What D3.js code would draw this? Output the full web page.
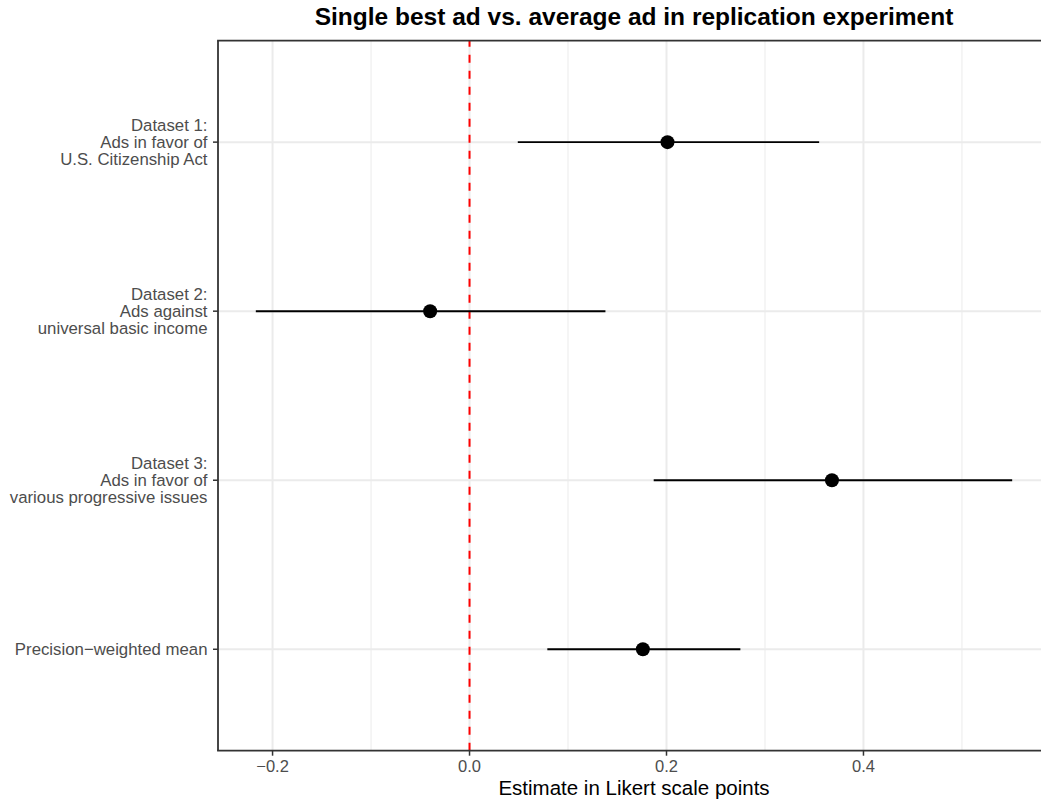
<!DOCTYPE html>
<html>
<head>
<meta charset="utf-8">
<script src="https://cdn.jsdelivr.net/npm/d3@7"></script>
<style>
  html, body { margin: 0; padding: 0; background: #fff; overflow: hidden; }
  svg { display: block; overflow: hidden; font-family: "Liberation Sans", Arial, Helvetica, sans-serif; }
</style>
</head>
<body>
<svg id="chart" width="1041" height="804"></svg>
<script>
// Estimates with 95% intervals, one row per dataset plus the pooled mean
const categories = [
  "Dataset 1:\nAds in favor of\nU.S. Citizenship Act",
  "Dataset 2:\nAds against\nuniversal basic income",
  "Dataset 3:\nAds in favor of\nvarious progressive issues",
  "Precision\u2212weighted mean"
];
const estimates = [0.201, -0.040, 0.368, 0.176];
const lowerCI   = [0.049, -0.217, 0.187, 0.079];
const upperCI   = [0.355, 0.138, 0.551, 0.275];
const xMajorTicks = [-0.2, 0.0, 0.2, 0.4];
const xMinorTicks = [-0.1, 0.1, 0.3, 0.5];
const titleText = "Single best ad vs. average ad in replication experiment";
const xTitleText = "Estimate in Likert scale points";

const rows = categories.map((c, i) => ({ cat: c, est: estimates[i], lo: lowerCI[i], hi: upperCI[i] }));

const W = 1041;
const svg = d3.select("#chart");
const panel = { left: 218, top: 40.7, right: 1050, bottom: 750.7 };

// x domain: data range padded by 5% on each side
const lo = d3.min(lowerCI), hi = d3.max(upperCI);
const pad = (hi - lo) * 0.05;
const x = d3.scaleLinear().domain([lo - pad, hi + pad]).range([panel.left, panel.right]);
const y = d3.scalePoint().domain(categories).range([panel.top, panel.bottom]).padding(0.6);

svg.append("defs").append("clipPath").attr("id", "panelClip")
  .append("rect")
  .attr("x", panel.left).attr("y", panel.top)
  .attr("width", W - panel.left).attr("height", panel.bottom - panel.top);

const g = svg.append("g").attr("clip-path", "url(#panelClip)");

// grid
g.selectAll("line.minor").data(xMinorTicks).join("line")
  .attr("x1", d => x(d)).attr("x2", d => x(d))
  .attr("y1", panel.top).attr("y2", panel.bottom)
  .attr("stroke", "#EBEBEB").attr("stroke-width", 1);
g.selectAll("line.majorx").data(xMajorTicks).join("line")
  .attr("x1", d => x(d)).attr("x2", d => x(d))
  .attr("y1", panel.top).attr("y2", panel.bottom)
  .attr("stroke", "#EBEBEB").attr("stroke-width", 2);
g.selectAll("line.majory").data(categories).join("line")
  .attr("x1", panel.left).attr("x2", W)
  .attr("y1", d => y(d)).attr("y2", d => y(d))
  .attr("stroke", "#EBEBEB").attr("stroke-width", 2);

// reference line at zero
g.append("line")
  .attr("x1", x(0)).attr("x2", x(0))
  .attr("y1", panel.bottom).attr("y2", panel.top)
  .attr("stroke", "#FF0000").attr("stroke-width", 2)
  .attr("stroke-dasharray", "8,8");

// intervals and point estimates
g.selectAll("line.ci").data(rows).join("line")
  .attr("x1", d => x(d.lo)).attr("x2", d => x(d.hi))
  .attr("y1", d => y(d.cat)).attr("y2", d => y(d.cat))
  .attr("stroke", "#000").attr("stroke-width", 1.9);
g.selectAll("circle").data(rows).join("circle")
  .attr("cx", d => x(d.est)).attr("cy", d => y(d.cat))
  .attr("r", 7).attr("fill", "#000");

// panel border: left, top and bottom edges (the right edge lies past the canvas)
const border = [
  [panel.left, panel.top, panel.left, panel.bottom],
  [panel.left - 0.9, panel.top, W, panel.top],
  [panel.left - 0.9, panel.bottom, W, panel.bottom]
];
svg.append("g").selectAll("line").data(border).join("line")
  .attr("x1", d => d[0]).attr("y1", d => d[1])
  .attr("x2", d => d[2]).attr("y2", d => d[3])
  .attr("stroke", "#333333").attr("stroke-width", 1.8);

// x axis
const xAxis = svg.append("g");
xAxis.selectAll("line").data(xMajorTicks).join("line")
  .attr("x1", d => x(d)).attr("x2", d => x(d))
  .attr("y1", panel.bottom).attr("y2", panel.bottom + 5)
  .attr("stroke", "#333333").attr("stroke-width", 1.5);
xAxis.selectAll("text").data(xMajorTicks).join("text")
  .attr("x", d => x(d)).attr("y", 772)
  .attr("text-anchor", "middle")
  .attr("font-size", 16.5).attr("fill", "#4D4D4D")
  .text(d => d3.format(".1f")(d).replace("-", "\u2212"));

// y axis
const yAxis = svg.append("g");
yAxis.selectAll("line").data(categories).join("line")
  .attr("x1", panel.left - 5).attr("x2", panel.left)
  .attr("y1", d => y(d)).attr("y2", d => y(d))
  .attr("stroke", "#333333").attr("stroke-width", 1.5);
const lineH = 17;
yAxis.selectAll("text").data(categories).join("text")
  .attr("text-anchor", "end")
  .attr("font-size", 16.8).attr("fill", "#4D4D4D")
  .each(function(d) {
    const lines = d.split("\n");
    const t = d3.select(this);
    const first = y(d) + 5.9 - (lines.length - 1) * lineH / 2;
    lines.forEach((ln, i) => {
      t.append("tspan").attr("x", 207.5).attr("y", first + i * lineH).text(ln);
    });
  });

// titles
svg.append("text")
  .attr("x", (panel.left + panel.right) / 2).attr("y", 25)
  .attr("text-anchor", "middle")
  .attr("font-size", 24.5).attr("font-weight", "bold").attr("fill", "#000")
  .text(titleText);
svg.append("text")
  .attr("x", (panel.left + panel.right) / 2).attr("y", 795)
  .attr("text-anchor", "middle")
  .attr("font-size", 20.5).attr("fill", "#000")
  .text(xTitleText);
</script>
</body>
</html>
